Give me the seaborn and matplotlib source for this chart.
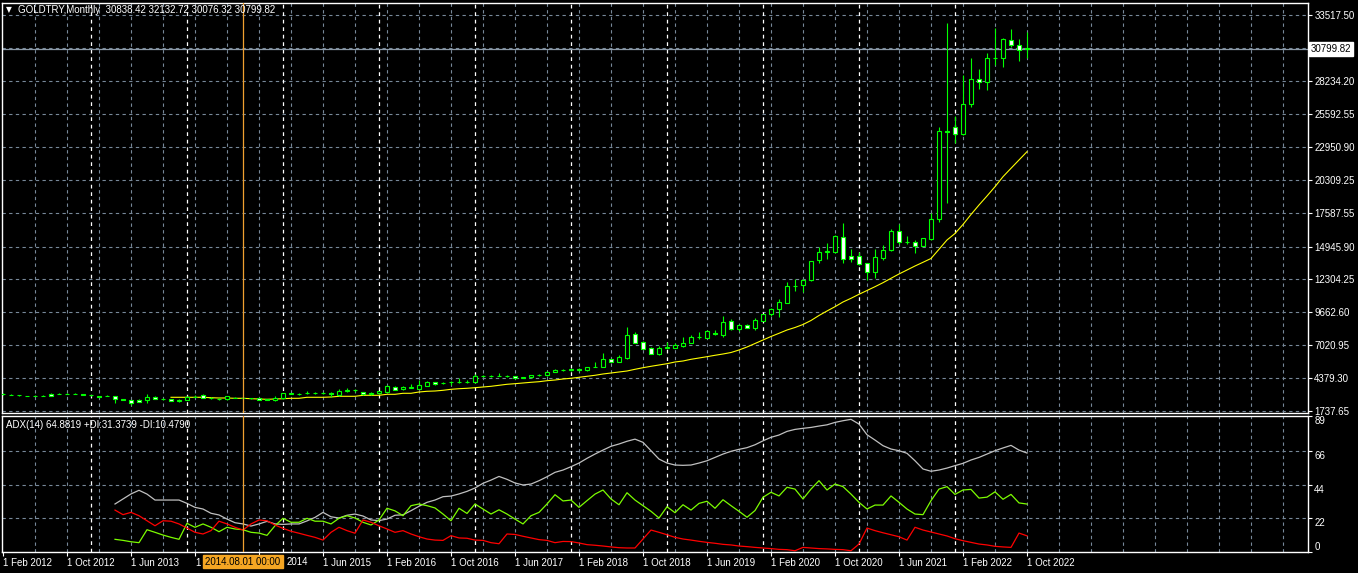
import numpy as np
import pandas as pd
import matplotlib
matplotlib.use("Agg")
import matplotlib.pyplot as plt
import matplotlib.transforms as mtransforms
import seaborn as sns

# GOLDTRY monthly candles, Feb 2012 .. Oct 2022
opens = [3120, 3070, 3040, 2960, 2980, 2975, 3120, 3130, 3150, 3120,
         3110, 3040, 2940, 2930, 2950, 2690, 2640, 2610, 2640, 2900,
         2700, 2710, 2560, 2610, 2900, 3000, 2810, 2740, 2690, 2830,
         2800, 2790, 2770, 2680, 2610, 2770, 3130, 3140, 3170, 3200,
         3190, 3180, 3060, 3390, 3420, 3250, 3100, 3170, 3300, 3700,
         3490, 3620, 3550, 3790, 4050, 3960, 4050, 4040, 4100, 4110,
         4590, 4560, 4560, 4560, 4560, 4440, 4450, 4640, 4615, 4880,
         5060, 5020, 5110, 5020, 5290, 5310, 5900, 5710, 6030, 7930,
         7290, 6780, 6330, 6820, 6840, 7000, 7210, 7680, 7640, 8030,
         7880, 8940, 8310, 8650, 8410, 9000, 9510, 9910, 10440, 11760,
         11830, 12240, 13840, 14520, 14540, 15690, 14160, 14210, 13600, 12880,
         14060, 14640, 16170, 15340, 15310, 14990, 15580, 17130, 24190, 24510,
         23950, 26360, 28360, 28120, 30040, 30100, 31490, 31090, 30838.42]
highs = [3170, 3120, 3060, 2975, 3050, 3040, 3170, 3180, 3190, 3170,
         3130, 3060, 2960, 3020, 2970, 2720, 2660, 2700, 3090, 2960,
         2800, 2740, 2690, 2940, 3010, 3090, 2860, 2780, 2960, 2860,
         2860, 2830, 2800, 2720, 2930, 3220, 3190, 3210, 3360, 3280,
         3270, 3300, 3490, 3570, 3520, 3290, 3280, 3370, 3840, 3760,
         3720, 3920, 4240, 4130, 4110, 4080, 4190, 4370, 4240, 4720,
         4670, 4640, 4780, 4640, 4600, 4510, 4660, 4750, 4940, 5110,
         5150, 5160, 5200, 5320, 5710, 6430, 5960, 6250, 8519, 8120,
         7400, 6850, 6970, 7260, 7180, 7660, 7850, 8090, 8250, 8250,
         9375, 9100, 8700, 8700, 9190, 9520, 10000, 10740, 12100, 12320,
         12320, 13800, 14900, 15260, 15870, 16860, 14720, 14540, 13650, 14750,
         15070, 16330, 16730, 15790, 15470, 15650, 17660, 24510, 32850, 25420,
         28710, 30040, 29160, 30500, 32450, 31650, 32400, 31570, 32132.72]
lows = [3040, 3030, 2990, 2920, 2920, 2940, 2940, 3100, 3110, 3080,
        3050, 2990, 2880, 2920, 2370, 2640, 2230, 2440, 2370, 2720,
        2610, 2530, 2500, 2600, 2850, 2780, 2740, 2660, 2660, 2760,
        2740, 2730, 2650, 2620, 2580, 2740, 3080, 3060, 3150, 3120,
        3110, 2910, 2980, 3300, 3290, 3060, 3040, 3140, 3250, 3440,
        3440, 3600, 3520, 3760, 3860, 3890, 3840, 4020, 3970, 4030,
        4510, 4450, 4540, 4460, 4350, 4370, 4420, 4560, 4590, 4860,
        4960, 4930, 5000, 4990, 5270, 5280, 5690, 5690, 5900, 7200,
        6700, 6300, 6250, 6780, 6770, 6910, 7180, 7500, 7570, 7820,
        7720, 8280, 8200, 8380, 8250, 8960, 9400, 9300, 10400, 11390,
        11260, 12180, 13600, 13950, 14450, 13650, 13720, 13500, 12260, 12450,
        13870, 14620, 15120, 15120, 14400, 14950, 15500, 16940, 18420, 23230,
        23900, 26170, 27610, 27480, 29510, 29320, 30980, 29800, 30076.32]
closes = [3080, 3075, 3010, 2945, 2975, 2985, 2960, 3150, 3140, 3115,
          3070, 3010, 2900, 2960, 2720, 2660, 2420, 2460, 2900, 2740,
          2690, 2540, 2620, 2900, 2870, 2800, 2790, 2680, 2930, 2800,
          2795, 2770, 2670, 2650, 2820, 3170, 3160, 3130, 3200, 3190,
          3195, 3140, 3360, 3420, 3410, 3090, 3170, 3330, 3730, 3470,
          3650, 3680, 3840, 4080, 3890, 3990, 4060, 4070, 4110, 4590,
          4580, 4550, 4590, 4550, 4380, 4470, 4610, 4645, 4880, 5070,
          5030, 5120, 5060, 5280, 5320, 5900, 5710, 6090, 7850, 7240,
          6750, 6350, 6810, 6860, 7050, 7210, 7690, 7700, 8170, 7960,
          8890, 8310, 8650, 8410, 9050, 9510, 9940, 10470, 11780, 11750,
          12260, 13790, 14510, 14550, 15790, 13920, 13920, 13520, 12880, 14080,
          14640, 16190, 15340, 15330, 15020, 15600, 17130, 24190, 24140, 23950,
          26360, 28360, 28120, 30040, 30100, 31570, 31090, 30690, 30799.82]

# moving average (yellow), starts at bar 21
ma_start = 21
ma_values = [2853, 2853, 2853, 2853, 2853, 2820, 2797, 2797, 2772, 2772,
             2740, 2716, 2692, 2716, 2740, 2772, 2772, 2853, 2853, 2853,
             2877, 2933, 2933, 2933, 3013, 3013, 3013, 3093, 3093, 3174,
             3174, 3278, 3334, 3358, 3414, 3494, 3542, 3575, 3623, 3679,
             3735, 3815, 3896, 3944, 4000, 4056, 4104, 4184, 4240, 4321,
             4377, 4457, 4537, 4618, 4722, 4802, 4882, 4962, 5099, 5227,
             5340, 5444, 5548, 5685, 5765, 5901, 6005, 6110, 6222, 6326,
             6446, 6647, 6888, 7168, 7449, 7730, 7987, 8251, 8452, 8693,
             9014, 9415, 9776, 10121, 10498, 10794, 11115, 11420, 11725, 12046,
             12399, 12744, 13065, 13386, 13683, 13987, 14725, 15471, 15993, 16715,
             17517, 18279, 19001, 19747, 20549, 21223, 21889, 22555]

# ADX(14) window, starts at bar 14
adx_start = 14
adx_main = [31.4, 34.7, 38.0, 40.4, 37.9, 34.0, 34.0, 34.0, 34.0, 31.8,
            29.2, 28.1, 25.3, 24.2, 21.5, 19.1, 18.3, 16.9, 18.3, 20.0,
            18.3, 18.0, 18.3, 18.3, 20.3, 22.6, 25.9, 23.0, 22.2, 24.0,
            24.8, 23.5, 20.9, 20.5, 21.5, 24.0, 24.3, 27.0, 29.9, 32.5,
            34.0, 36.2, 36.6, 38.0, 39.7, 41.9, 45.0, 47.1, 49.5, 47.6,
            45.2, 43.9, 44.5, 46.7, 49.3, 52.2, 53.7, 55.9, 58.3, 61.4,
            64.2, 66.8, 69.3, 70.8, 72.6, 74.0, 71.9, 66.4, 60.9, 58.3,
            57.0, 56.8, 57.0, 58.3, 59.8, 62.0, 64.2, 66.0, 67.3, 68.4,
            70.3, 72.9, 75.2, 76.7, 79.1, 80.4, 81.1, 81.7, 82.6, 83.4,
            85.0, 86.1, 87.0, 83.9, 76.9, 73.4, 69.7, 67.5, 66.4, 64.7,
            59.8, 54.4, 52.9, 53.7, 55.0, 56.6, 58.1, 60.3, 62.0, 64.2,
            66.4, 68.2, 69.9, 66.8, 64.8819]
plus_di = [8.2, 7.5, 6.6, 6.0, 14.5, 12.8, 11.0, 9.5, 8.2, 18.7,
           16.1, 18.3, 16.1, 13.2, 16.1, 15.0, 14.5, 12.8, 12.3, 10.8,
           17.1, 22.0, 19.4, 19.4, 22.0, 20.1, 20.1, 18.3, 22.0, 23.7,
           22.2, 19.4, 17.6, 20.9, 28.6, 26.9, 23.7, 30.3, 31.4, 30.3,
           28.8, 24.8, 20.4, 28.6, 25.2, 31.4, 28.1, 24.8, 27.6, 24.8,
           21.5, 18.3, 23.7, 25.9, 31.4, 37.5, 33.4, 34.0, 29.2, 33.6,
           37.9, 40.6, 34.7, 30.9, 38.8, 34.0, 30.3, 26.6, 22.2, 29.6,
           25.7, 30.9, 27.4, 31.8, 33.2, 28.6, 34.2, 30.3, 26.6, 22.7,
           27.1, 35.8, 39.1, 36.7, 42.4, 41.2, 34.7, 41.2, 46.7, 40.6,
           44.5, 42.8, 37.9, 32.5, 28.1, 30.7, 30.7, 36.7, 32.5, 28.1,
           24.8, 24.4, 33.6, 41.2, 42.8, 37.7, 40.6, 41.0, 35.3, 35.9,
           39.4, 34.5, 37.7, 32.1, 31.3739]
minus_di = [27.4, 24.4, 25.9, 23.7, 20.4, 17.1, 20.4, 20.1, 18.3, 15.6,
            12.8, 11.7, 13.9, 20.1, 18.3, 16.1, 14.3, 18.3, 20.9, 20.4,
            17.6, 15.4, 13.5, 12.2, 10.8, 9.5, 7.7, 12.8, 16.1, 13.9,
            12.2, 20.9, 19.4, 17.1, 15.0, 12.8, 13.9, 11.7, 9.9, 8.4,
            7.7, 7.5, 10.6, 9.1, 8.9, 7.7, 7.5, 6.0, 5.3, 11.7,
            11.4, 10.2, 9.1, 8.0, 7.5, 6.0, 6.8, 6.7, 5.8, 4.7,
            4.3, 3.8, 3.2, 2.7, 2.5, 2.5, 8.4, 14.3, 12.8, 11.2,
            9.5, 8.4, 7.7, 6.9, 6.2, 5.6, 4.9, 4.5, 3.8, 3.4,
            2.9, 2.5, 2.1, 1.6, 1.4, 0.7, 2.9, 2.5, 2.1, 1.9,
            1.6, 1.4, 0.7, 5.1, 15.6, 13.9, 12.5, 11.2, 9.9, 7.7,
            16.1, 14.3, 13.0, 11.7, 10.4, 8.6, 7.3, 6.2, 5.1, 4.5,
            3.6, 3.2, 2.9, 12.3, 10.4790]

price_ticks = [1737.65, 4379.30, 7020.95, 9662.60, 12304.25, 14945.90, 17667.60,
               20309.25, 22950.90, 25592.55, 28234.20, 30875.85, 33517.50]
price_labels = ["1737.65", "4379.30", "7020.95", "9662.60", "12304.25", "14945.90",
                "17587.55", "20309.25", "22950.90", "25592.55", "28234.20", "",
                "33517.50"]
adx_ticks = [89, 66, 44, 22, 0]
# "1 Feb 2014" / "1 Oct 2014" are partly hidden by the cursor date box
date_labels = ["1 Feb 2012", "1 Oct 2012", "1 Jun 2013", "1", "",
               "1 Jun 2015", "1 Feb 2016", "1 Oct 2016", "1 Jun 2017", "1 Feb 2018",
               "1 Oct 2018", "1 Jun 2019", "1 Feb 2020", "1 Oct 2020", "1 Jun 2021",
               "1 Feb 2022", "1 Oct 2022"]
hidden_tail = "2014"
year_starts = [11, 23, 35, 47, 59, 71, 83, 95, 107, 119]   # January bars
cursor_bar = 30
cursor_text = "2014.08.01 00:00"
adx_header = "ADX(14) 64.8819 +DI:31.3739 -DI:10.4790"
title_text = "GOLDTRY,Monthly  30838.42 32132.72 30076.32 30799.82"

plt.rcParams['font.family'] = ['Liberation Sans', 'DejaVu Sans']

W, H = 1358, 573
GRID = '#778899'
LIME = '#00ff00'
FS = 7

candles = pd.DataFrame({'open': opens, 'high': highs, 'low': lows, 'close': closes})
candles['bar'] = np.arange(len(candles))
ma = pd.DataFrame({'bar': np.arange(ma_start, ma_start + len(ma_values)), 'ma': ma_values})
adx = pd.DataFrame({'bar': np.arange(adx_start, adx_start + len(adx_main)),
                    'adx': adx_main, 'pdi': plus_di, 'mdi': minus_di})

fig = plt.figure(figsize=(W / 100, H / 100), dpi=100, facecolor='black')
ax = fig.add_axes([2 / W, 1 - 413 / H, 1306 / W, 410 / H], facecolor='black')
ax2 = fig.add_axes([2 / W, 1 - 552 / H, 1306 / W, 136 / H], facecolor='black')

xmin, xmax = -0.125, 163.125
for a in (ax, ax2):
    a.set_xlim(xmin, xmax)
    for s in a.spines.values():
        s.set_color('white')
        s.set_linewidth(1)
    for b in range(4, 164, 4):
        a.axvline(b, color=GRID, lw=0.8, ls=(0, (3, 3)), zorder=0)
    for b in year_starts:
        a.axvline(b, color='white', lw=0.9, ls=(0, (3, 3)), zorder=0.5)

ax.set_ylim(1593, 34483)
ax2.set_ylim(-0.13, 89.2)

for p in price_ticks:
    ax.axhline(p, color=GRID, lw=0.8, ls=(0, (3, 3)), zorder=0)
for v in [22, 44, 66]:
    ax2.axhline(v, color=GRID, lw=0.8, ls=(0, (3, 3)), zorder=0)

# current price line
ax.axhline(closes[-1], color='#8c9aa8', lw=0.9, zorder=0.6)

# candles
bull = candles[candles['close'] >= candles['open']]
bear = candles[candles['close'] < candles['open']]
ax.vlines(candles['bar'], candles['low'], candles['high'], color=LIME, lw=0.8, zorder=2)
ax.bar(bull['bar'], bull['close'] - bull['open'], bottom=bull['open'], width=0.6,
       color='black', edgecolor=LIME, linewidth=0.8, zorder=3)
ax.bar(bear['bar'], bear['open'] - bear['close'], bottom=bear['close'], width=0.6,
       color='white', edgecolor=LIME, linewidth=0.8, zorder=3)

sns.lineplot(data=ma, x='bar', y='ma', ax=ax, color='#ffff00', lw=0.8, zorder=1.5)

sns.lineplot(data=adx, x='bar', y='adx', ax=ax2, color='#c0c0c0', lw=0.9)
sns.lineplot(data=adx, x='bar', y='pdi', ax=ax2, color='#7cfc00', lw=0.9)
sns.lineplot(data=adx, x='bar', y='mdi', ax=ax2, color='#ff0000', lw=0.9)

# crosshair line
for a in (ax, ax2):
    a.axvline(cursor_bar, color='#f0a030', lw=0.9, zorder=4)

# axes / ticks
for a in (ax, ax2):
    a.set_xlabel('')
    a.set_ylabel('')
    a.yaxis.tick_right()
    a.tick_params(axis='y', colors='white', length=3, width=0.8, labelsize=FS, pad=1.5)

ax.set_xticks([])
ax.set_yticks(price_ticks, price_labels)
ax2.set_yticks(adx_ticks, [str(v) for v in adx_ticks])
for lab in ax2.get_yticklabels():
    lab.set_va('bottom' if lab.get_text() == '0' else 'top')

ax2.set_xticks(range(0, 8 * len(date_labels), 8), date_labels)
ax2.tick_params(axis='x', colors='white', length=3, width=0.8, labelsize=FS, pad=1)
for lab in ax2.get_xticklabels():
    lab.set_ha('left')

# visible end of the "1 Oct 2014" label, right of the cursor box
fig.text(287 / W, 1 - 562 / H, hidden_tail, fontsize=FS, color='white', va='center')

# price label box
tr = mtransforms.blended_transform_factory(ax.transAxes, ax.transData)
ax.text(1 + 3 / 1306, closes[-1], f"{closes[-1]:.2f}", transform=tr, ha='left',
        va='center', fontsize=FS, color='black', zorder=6,
        bbox=dict(boxstyle='square,pad=0.2', fc='white', ec='white'))

# cursor date box
tr2 = mtransforms.blended_transform_factory(ax2.transData, ax2.transAxes)
ax2.text(cursor_bar, -0.07, cursor_text, transform=tr2, ha='center', va='center',
         fontsize=FS, color='black', zorder=6, clip_on=False,
         bbox=dict(boxstyle='square,pad=0.2', fc='#f5a623', ec='#f5a623'))

# header texts
fig.text(6 / W, 1 - 10 / H, "\u25bc", fontsize=5.5, color='white', va='center',
         family=['DejaVu Sans'])
fig.text(18 / W, 1 - 10 / H, title_text, fontsize=FS, color='white', va='center')
fig.text(6 / W, 1 - 425 / H, adx_header, fontsize=FS, color='white', va='center')

fig.savefig('out.png', dpi=100, facecolor='black')
